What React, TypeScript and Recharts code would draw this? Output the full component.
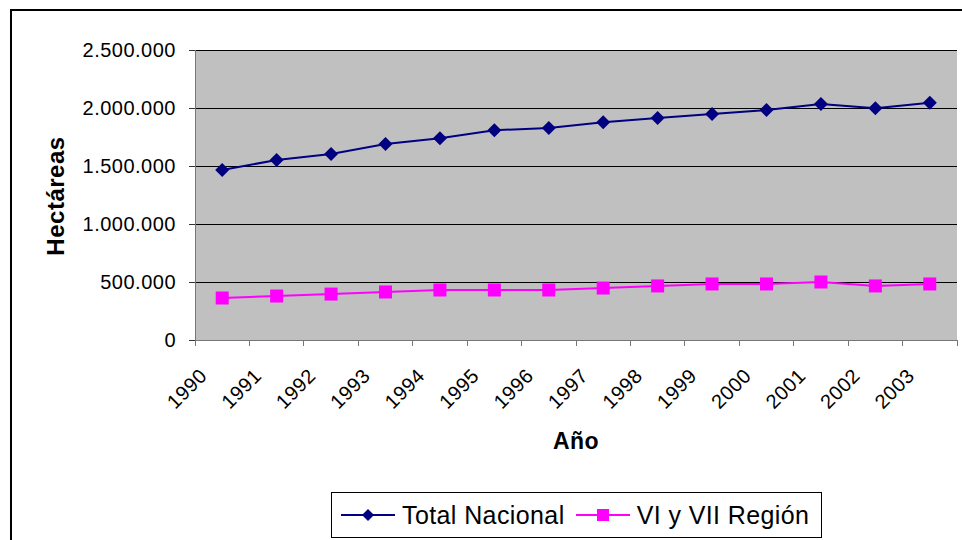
import React from "react";
import {
  LineChart,
  Line,
  XAxis,
  YAxis,
  CartesianGrid,
  Legend,
} from "recharts";

const YEARS = [
  "1990", "1991", "1992", "1993", "1994", "1995", "1996",
  "1997", "1998", "1999", "2000", "2001", "2002", "2003",
];
const TOTAL_NACIONAL = [
  1466000, 1552000, 1603000, 1690000, 1739000, 1808000, 1828000,
  1877000, 1914000, 1948000, 1983000, 2034000, 1997000, 2046000,
];
const VI_VII_REGION = [
  362000, 379000, 396000, 414000, 431000, 431000, 431000,
  448000, 466000, 483000, 483000, 500000, 466000, 483000,
];
const Y_TICKS = [0, 500000, 1000000, 1500000, 2000000, 2500000];

const data = YEARS.map((year, i) => ({
  year,
  total: TOTAL_NACIONAL[i],
  region: VI_VII_REGION[i],
}));

const FONT = '"Liberation Sans", Arial, sans-serif';
const NAVY = "#000080";
const MAGENTA = "#FF00FF";
const AXIS = "#777777";

const W = 962;
const H = 540;
const MARGIN = { top: 50, right: 5, left: 0, bottom: 90 };
const Y_AXIS_W = 195;
const X_AXIS_H = 110;
const BAND = (W - MARGIN.left - MARGIN.right - Y_AXIS_W) / YEARS.length;

const fmt = (v: number) =>
  String(v).replace(/\B(?=(\d{3})+(?!\d))/g, ".");

function Diamond({ cx, cy, size = 7 }: any) {
  if (cx == null || cy == null) return null;
  return (
    <polygon
      points={`${cx},${cy - size} ${cx + size},${cy} ${cx},${cy + size} ${cx - size},${cy}`}
      fill={NAVY}
    />
  );
}

function Square({ cx, cy, size = 13 }: any) {
  if (cx == null || cy == null) return null;
  return (
    <rect x={cx - size / 2} y={cy - size / 2} width={size} height={size} fill={MAGENTA} />
  );
}

function XTick({ x, y, payload, index }: any) {
  const half = BAND / 2;
  return (
    <g>
      <line x1={x - half} y1={y} x2={x - half} y2={y + 6} stroke={AXIS} shapeRendering="crispEdges" />
      {index === YEARS.length - 1 && (
        <line x1={x + half} y1={y} x2={x + half} y2={y + 6} stroke={AXIS} shapeRendering="crispEdges" />
      )}
      <text
        x={x - 14}
        y={y + 37}
        transform={`rotate(-45 ${x - 14} ${y + 37})`}
        textAnchor="end"
        fontSize={20}
        letterSpacing={0.5}
        fontFamily={FONT}
        fill="#000"
      >
        {payload.value}
      </text>
    </g>
  );
}

function LegendBox({ payload }: any) {
  const items = payload || [];
  return (
    <div
      style={{
        border: "1px solid #000",
        background: "#fff",
        width: 489,
        height: 44,
        display: "flex",
        alignItems: "center",
        fontFamily: FONT,
        fontSize: 25,
        letterSpacing: 0.4,
        boxSizing: "content-box",
      }}
    >
      {items.map((it: any, i: number) => (
        <div
          key={i}
          style={{ display: "flex", alignItems: "center", marginLeft: i === 0 ? 9 : 11 }}
        >
          <svg width={54} height={20}>
            <line x1={0} y1={10} x2={54} y2={10} stroke={it.color} strokeWidth={2} />
            {it.dataKey === "total" ? (
              <Diamond cx={27} cy={10} size={6} />
            ) : (
              <Square cx={27} cy={10} size={12} />
            )}
          </svg>
          <span style={{ marginLeft: 7 }}>{it.value}</span>
        </div>
      ))}
    </div>
  );
}

export default function App() {
  return (
    <div
      style={{
        position: "absolute",
        left: 0,
        top: 0,
        width: W,
        height: H,
        overflow: "hidden",
        background: "#fff",
      }}
    >
      <div
        style={{
          position: "absolute",
          left: 10,
          top: 9,
          width: 980,
          height: 600,
          border: "2px solid #000",
        }}
      />
      <div style={{ position: "absolute", left: 0, top: 0 }}>
        <LineChart width={W} height={H} data={data} margin={MARGIN}>
          <CartesianGrid
            vertical={false}
            stroke="#000"
            fill="#C0C0C0"
            fillOpacity={1}
            shapeRendering="crispEdges"
          />
          <XAxis
            dataKey="year"
            scale="band"
            height={X_AXIS_H}
            axisLine={{ stroke: AXIS, shapeRendering: "crispEdges" }}
            tickLine={false}
            tickSize={0}
            tickMargin={0}
            interval={0}
            tick={<XTick />}
            label={{
              content: ({ viewBox }: any) => (
                <text
                  x={viewBox.x + viewBox.width / 2}
                  y={viewBox.y + 109}
                  textAnchor="middle"
                  fontFamily={FONT}
                  fontWeight="bold"
                  fontSize={23}
                  letterSpacing={0.5}
                  fill="#000"
                >
                  Año
                </text>
              ),
            }}
          />
          <XAxis
            xAxisId="top"
            orientation="top"
            dataKey="year"
            scale="band"
            height={0}
            tick={false}
            tickLine={false}
            axisLine={{ stroke: AXIS, shapeRendering: "crispEdges" }}
          />
          <YAxis
            width={Y_AXIS_W}
            domain={[0, 2500000]}
            ticks={Y_TICKS}
            tickFormatter={fmt}
            axisLine={{ stroke: AXIS, shapeRendering: "crispEdges" }}
            tickLine={{ stroke: "#333", shapeRendering: "crispEdges" }}
            tickSize={6}
            tickMargin={13}
            tick={{ fontSize: 20, fontFamily: FONT, fill: "#000", letterSpacing: 0.5 }}
            label={{
              content: ({ viewBox }: any) => {
                const cx = viewBox.x + 55;
                const cy = viewBox.y + viewBox.height / 2 + 1;
                return (
                  <text
                    x={cx}
                    y={cy}
                    transform={`rotate(-90 ${cx} ${cy})`}
                    textAnchor="middle"
                    dominantBaseline="central"
                    fontFamily={FONT}
                    fontWeight="bold"
                    fontSize={24}
                    letterSpacing={0.5}
                    fill="#000"
                  >
                    Hectáreas
                  </text>
                );
              },
            }}
          />
          <YAxis
            yAxisId="right"
            orientation="right"
            width={0}
            domain={[0, 2500000]}
            ticks={Y_TICKS}
            tick={false}
            tickLine={false}
            axisLine={{ stroke: AXIS, shapeRendering: "crispEdges" }}
          />
          <Legend
            verticalAlign="middle"
            align="center"
            layout="horizontal"
            wrapperStyle={{ left: 331, top: 492, bottom: "auto", width: "auto" }}
            content={<LegendBox />}
          />
          <Line
            dataKey="total"
            name="Total Nacional"
            stroke={NAVY}
            strokeWidth={2}
            dot={<Diamond />}
            activeDot={false}
            isAnimationActive={false}
          />
          <Line
            dataKey="region"
            name="VI y VII Región"
            stroke={MAGENTA}
            strokeWidth={2}
            dot={<Square />}
            activeDot={false}
            isAnimationActive={false}
          />
        </LineChart>
      </div>
    </div>
  );
}
